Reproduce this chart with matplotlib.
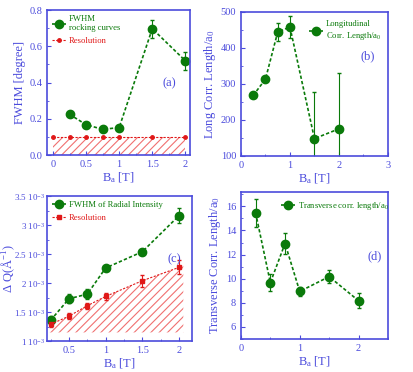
import matplotlib
matplotlib.use('Agg')
import matplotlib.pyplot as plt
import numpy as np
from matplotlib.ticker import AutoMinorLocator

plt.rcParams['font.family'] = ['Liberation Serif', 'DejaVu Serif']
plt.rcParams['mathtext.default'] = 'regular'
plt.rcParams['hatch.linewidth'] = 0.8

BLUE = '#4b4bdc'
GREEN = '#0a7a0a'
RED = '#e01818'
HATCH = '#f07070'
DOTS = (0, (2, 1.3))

# (a) rocking curve width
Ba = [0.25, 0.5, 0.75, 1.0, 1.5, 2.0]
fwhm_rock = [0.225, 0.168, 0.142, 0.152, 0.697, 0.520]
fwhm_rock_err = [0.01, 0.01, 0.01, 0.01, 0.05, 0.05]
Ba_res = [0, 0.25, 0.5, 0.75, 1.0, 1.5, 2.0]
res_rock = [0.1, 0.1, 0.1, 0.1, 0.1, 0.1, 0.1]

# (b) longitudinal correlation length
long_corr = [268, 313, 444, 458, 148, 175]
long_corr_err = [0, 0, 25, 30, 130, 155]

# (c) radial width
dq = [1.36e-3, 1.73e-3, 1.81e-3, 2.26e-3, 2.54e-3, 3.16e-3]
dq_err = [0.07e-3, 0.08e-3, 0.08e-3, 0.04e-3, 0.05e-3, 0.13e-3]
dq_res = [1.29e-3, 1.43e-3, 1.61e-3, 1.77e-3, 2.04e-3, 2.27e-3]
dq_res_err = [0.05e-3, 0.05e-3, 0.05e-3, 0.06e-3, 0.10e-3, 0.12e-3]
dq_ticks = [1e-3, 1.5e-3, 2e-3, 2.5e-3, 3e-3, 3.5e-3]
dq_ticklabels = ['1 10$^{-3}$', '1.5 10$^{-3}$', '2 10$^{-3}$',
                 '2.5 10$^{-3}$', '3 10$^{-3}$', '3.5 10$^{-3}$']

# (d) transverse correlation length
trans_corr = [15.45, 9.67, 12.92, 8.94, 10.17, 8.17]
trans_corr_err = [1.2, 0.7, 0.9, 0.4, 0.55, 0.6]


def style(ax):
    for s in ax.spines.values():
        s.set_color(BLUE)
        s.set_linewidth(1.2)
    ax.tick_params(which='both', direction='in', colors=BLUE, labelsize=7.5,
                   top=False, right=False)
    ax.tick_params(which='major', length=3)
    ax.tick_params(which='minor', length=1.5)
    ax.xaxis.set_minor_locator(AutoMinorLocator(2))
    ax.yaxis.set_minor_locator(AutoMinorLocator(2))
    ax.set_xlabel('B$_a$ [T]', color=BLUE, fontsize=9, labelpad=1)


def green_series(ax, x, y, err):
    return ax.errorbar(x, y, yerr=err, fmt='o', ls=DOTS, color=GREEN, ms=6,
                       lw=1.2, elinewidth=0.8, capsize=1.5)


def add_legend(ax, handles, labels, **kw):
    ax.legend(handles, labels, frameon=False, fontsize=6.2, handlelength=1.6,
              labelcolor='linecolor', borderaxespad=0.2, handletextpad=0.3,
              **kw)


fig = plt.figure(figsize=(4.14, 3.72), dpi=100)

# ---- (a)
ax = fig.add_axes([0.1135, 0.583, 0.3455, 0.39])
ax.fill_between([0, 2], 0, 0.1, facecolor='none', edgecolor=HATCH,
                hatch='////', linewidth=0)
eb = green_series(ax, Ba, fwhm_rock, fwhm_rock_err)
ln, = ax.plot(Ba_res, res_rock, ls=DOTS, marker='o', ms=2.5, color=RED,
              lw=0.8)
ax.set_xlim(-0.09, 2.07)
ax.set_ylim(0, 0.8)
ax.set_xticks([0, 0.5, 1, 1.5, 2])
ax.set_xticklabels(['0', '0.5', '1', '1.5', '2'])
ax.set_ylabel('FWHM [degree]', color=BLUE, fontsize=9, labelpad=2)
ax.text(1.65, 0.38, '(a)', fontsize=9, color=BLUE)
add_legend(ax, [eb[0], ln], ['FWHM\nrocking curves', 'Resolution'],
           loc='upper left')
style(ax)

# ---- (b)
ax = fig.add_axes([0.582, 0.581, 0.355, 0.387])
eb = green_series(ax, Ba, long_corr, long_corr_err)
ax.set_xlim(0, 3)
ax.set_ylim(100, 500)
ax.set_ylabel('Long Corr. Length/a$_0$', color=BLUE, fontsize=9, labelpad=2)
ax.text(2.45, 368, '(b)', fontsize=9, color=BLUE)
add_legend(ax, [eb[0]], ['Longitudinal\nCorr. Length/a$_0$'],
           loc='upper left', bbox_to_anchor=(0.43, 0.98))
style(ax)

# ---- (c)
ax = fig.add_axes([0.1135, 0.083, 0.3505, 0.39])
ax.fill_between([0.23] + Ba[1:] + [2.06],
                [1.25e-3] + dq_res[1:] + [2.3e-3], 1.15e-3,
                facecolor='none', edgecolor=HATCH, hatch='////', linewidth=0)
eb = green_series(ax, Ba, dq, dq_err)
eb2 = ax.errorbar(Ba, dq_res, yerr=dq_res_err, fmt='s', ls=DOTS, color=RED,
                  ms=2.5, lw=0.8, elinewidth=0.8, capsize=1.5)
ax.set_xlim(0.2, 2.18)
ax.set_ylim(1e-3, 3.45e-3)
ax.set_xticks([0.5, 1, 1.5, 2])
ax.set_xticklabels(['0.5', '1', '1.5', '2'])
ax.set_yticks(dq_ticks)
ax.set_yticklabels(dq_ticklabels)
ax.text(1.85, 2.36e-3, '(c)', fontsize=9, color=BLUE)
add_legend(ax, [eb[0], eb2[0]], ['FWHM of Radial Intensity', 'Resolution'],
           loc='upper left')
style(ax)
ax.tick_params(axis='y', labelsize=6.5, pad=1.5)
ax.set_ylabel('$\\Delta$ Q(Å$^{-1}$)', color=BLUE, fontsize=9)
ax.yaxis.set_label_coords(-0.21, 0.5)

# ---- (d)
ax = fig.add_axes([0.582, 0.089, 0.355, 0.395])
eb = green_series(ax, Ba, trans_corr, trans_corr_err)
ax.set_xlim(0, 2.5)
ax.set_ylim(5, 17.2)
ax.set_yticks([6, 8, 10, 12, 14, 16])
ax.set_ylabel('Transverse Corr. Length/a$_0$', color=BLUE, fontsize=9,
              labelpad=2)
ax.text(2.15, 11.6, '(d)', fontsize=9, color=BLUE)
add_legend(ax, [eb[0]], ['Transverse corr. length/a$_0$'],
           loc='upper left', bbox_to_anchor=(0.24, 0.98))
style(ax)

fig.savefig('out.png', dpi=100)
